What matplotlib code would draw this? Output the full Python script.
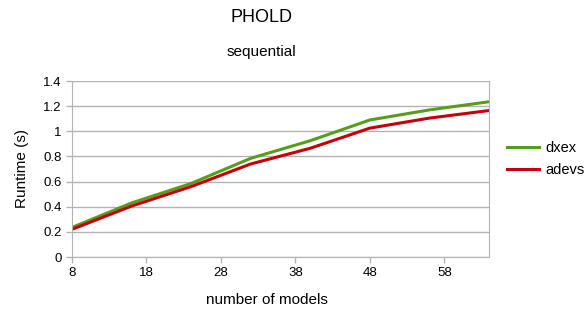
import numpy as np
import matplotlib.pyplot as plt

plt.rcParams['font.family'] = ['Liberation Sans', 'DejaVu Sans']

# data
models = [8, 16, 24, 32, 40, 48, 56, 64]
dxex = [0.235, 0.43, 0.585, 0.785, 0.925, 1.09, 1.17, 1.235]
adevs = [0.22, 0.405, 0.56, 0.74, 0.865, 1.025, 1.105, 1.165]
xticks = [8, 18, 28, 38, 48, 58]
yticks = [0, 0.2, 0.4, 0.6, 0.8, 1, 1.2, 1.4]

fig = plt.figure(figsize=(5.86, 3.11), dpi=100)
ax = fig.add_axes([72 / 586, 1 - 257 / 311, 417 / 586, 176 / 311])

ax.plot(models, dxex, color='#579d1c', lw=2.2, label='dxex')
ax.plot(models, adevs, color='#c5000b', lw=2.2, label='adevs')

ax.set_xlim(8, 64)
ax.set_ylim(0, 1.4)
ax.set_xticks(xticks)
ax.set_yticks(yticks)
ax.set_yticklabels([f'{v:g}' for v in yticks])
ax.tick_params(labelsize=9.5, length=4, color='#b3b3b3', width=1)
ax.grid(axis='y', color='#b3b3b3', lw=1)
ax.set_axisbelow(True)
for s in ax.spines.values():
    s.set_color('#b3b3b3')
ax.spines['top'].set_visible(False)

ax.set_xlabel('number of models', fontsize=11)
ax.xaxis.set_label_coords((267 - 72) / 417, -(300 - 257) / 176)
ax.xaxis.label.set_va('center')
ax.set_ylabel('Runtime (s)', fontsize=11, labelpad=10)

fig.text(261 / 586, 1 - 18 / 311, 'PHOLD', ha='center', va='center', fontsize=13)
fig.text(261 / 586, 1 - 52 / 311, 'sequential', ha='center', va='center', fontsize=11)

fig.legend(loc='center left', bbox_to_anchor=(494 / 586, 1 - 159 / 311),
           frameon=False, fontsize=10.5, handlelength=2.2, handletextpad=0.4,
           labelspacing=0.6)

fig.savefig('out.png', dpi=100)
